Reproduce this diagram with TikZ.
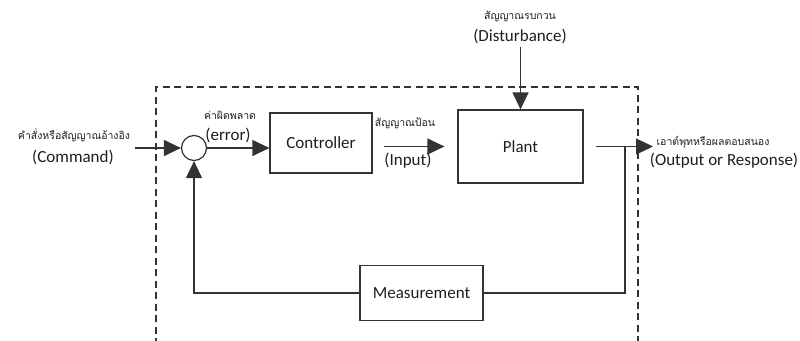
\documentclass[tikz,border=0pt]{standalone}
\usepackage{fontspec}
\setmainfont{Carlito}
\newfontfamily\thaifont[Script=Thai]{Loma}
\usetikzlibrary{arrows.meta}
\definecolor{linegray}{HTML}{333333}
\definecolor{textgray}{HTML}{1E1E1E}

\begin{document}
\begin{tikzpicture}[x=1pt,y=-1pt,line width=1.2pt,
	block/.style={draw=linegray, rectangle, inner sep=0pt, text=textgray,
		font=\fontsize{17}{20}\selectfont},
	eng/.style={text=textgray, inner sep=0pt, font=\fontsize{17}{20}\selectfont},
	thai/.style={text=textgray, inner sep=0pt, font=\thaifont\fontsize{10.5}{12}\selectfont},
	sig/.style={draw=linegray, -{Triangle[length=17pt,width=16pt]}},
	wire/.style={draw=linegray}]

\useasboundingbox (0,0) rectangle (800,340);

% Closed loop system boundary
\draw [draw=linegray, dash pattern=on 7pt off 4.5pt] (156,345) -- (156,87) -- (638,87) -- (638,345);

% Blocks
\node[draw=linegray, circle, minimum size=25pt, inner sep=0pt] (sum) at (194,148) {};
\node[block, minimum width=102pt, minimum height=60pt] (ctrl) at (321,143) {Controller};
\node[block, minimum width=125pt, minimum height=73pt] (plant) at (520.5,146.5) {Plant};
\node[block, minimum width=123pt, minimum height=55pt] (meas) at (421.5,293) {Measurement};

% Command (reference input)
\node[thai] (cmdth) at (74,135) {คำสั่งหรือสัญญาณอ้างอิง};
\node[eng] (cmd) at (73,157) {(Command)};
\coordinate (cmdin) at (135,148);
\draw [sig] (cmdin) -- (sum.west);

% Error
\node[thai] (errth) at (230,115) {ค่าผิดพลาด};
\node[eng] (err) at (228,135) {(error)};
\draw [sig] (sum.east) -- (sum.east -| ctrl.west);

% Input to plant
\node[thai] (inth) at (405,123) {สัญญาณป้อน};
\node[eng] (inp) at (408,161) {(Input)};
\draw [sig, shorten <=11pt, shorten >=13pt] (ctrl.east |- plant.west) -- (plant.west);

% Disturbance
\node[thai] (distth) at (520,16) {สัญญาณรบกวน};
\node[eng] (dist) at (520,36) {(Disturbance)};
\draw [sig, shorten <=3pt] (dist.south -| plant.north) -- (plant.north);

% Output
\node[thai] (outth) at (713,142) {เอาต์พุทหรือผลตอบสนอง};
\node[eng] (out) at (724,161) {(Output or Response)};
\coordinate (outend) at (653,146.5);
\coordinate (tap) at (625,146.5);
\draw [sig, shorten <=12pt] (plant.east) -- (outend);

% Feedback path
\draw [wire] (tap) |- (meas.east);
\draw [sig] (meas.west) -| (sum.south);

\end{tikzpicture}
\end{document}
